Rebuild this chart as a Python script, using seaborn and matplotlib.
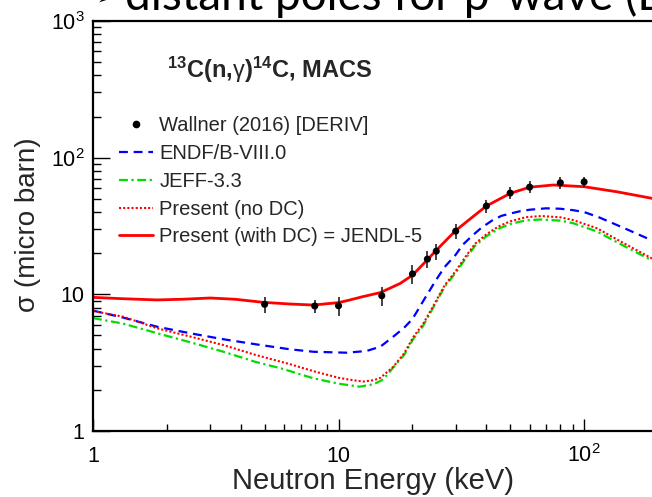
import matplotlib
matplotlib.use("Agg")
import matplotlib.pyplot as plt
import matplotlib.ticker as mticker
from matplotlib.lines import Line2D
import numpy as np
import pandas as pd
import seaborn as sns

# ---------------- data ----------------
exp_E = [5, 8, 10, 15, 20, 23, 25, 30, 40, 50, 60, 80, 100]
exp_S = [8.45, 8.21, 8.25, 9.77, 14.1, 18.1, 20.7, 29.0, 44.3, 55.1, 60.9, 65.5, 66.5]
exp_err = [1.1, 0.85, 1.3, 1.6, 2.2, 2.6, 2.8, 3.5, 5.0, 5.5, 6.2, 6.8, 6.0]

dc_E = [1, 1.3, 1.82, 2.3, 3.0, 3.8, 4.9, 6.3, 7.9, 10, 11, 12.5, 14.8, 17.8, 20, 23, 25,
        30, 35, 40, 50, 60, 75, 100, 136, 189]
dc_S = [9.5, 9.3, 9.1, 9.2, 9.4, 9.2, 8.75, 8.5, 8.35, 8.7, 9.05, 9.6, 10.3, 12.0, 13.8,
        17.9, 21.0, 29.3, 36.6, 44.3, 54.8, 60.8, 63.1, 61.3, 56.3, 50.4]

endf_E = [1, 1.33, 1.82, 2.5, 3.4, 4.6, 6.35, 7.9, 10.8, 13.0, 14.8, 16.7, 18.5, 20, 22.5,
          25, 27, 30, 32, 35, 38, 42, 46, 50, 55, 60, 70, 80, 90, 100, 115, 130, 150, 189]
endf_S = [7.6, 6.75, 5.8, 5.18, 4.69, 4.31, 3.96, 3.80, 3.74, 3.85, 4.14, 4.9, 5.7, 6.6,
          9.4, 12.8, 15.8, 19.5, 23.0, 26.8, 30.5, 34.5, 37.5, 39.0, 40.6, 41.6, 42.6, 42.3,
          41.3, 40.0, 36.6, 33.3, 29.8, 24.8]

nodc_E = [1, 1.33, 1.82, 2.5, 3.4, 4.6, 6.35, 7.9, 10, 11, 12.6, 14, 14.8, 16.7, 18.5, 20.2,
          22, 24.3, 27, 30, 33, 36, 40, 45, 50, 58, 67, 80, 90, 113, 140, 189]
nodc_S = [7.55, 6.85, 5.65, 4.9, 4.25, 3.6, 3.08, 2.74, 2.45, 2.38, 2.30, 2.36, 2.45, 2.95,
          3.7, 4.9, 6.0, 8.2, 11.6, 14.8, 19.0, 23.5, 27.5, 31.5, 34.2, 36.7, 37.4, 36.6,
          35.0, 30.4, 24.5, 18.3]

jeff_E = [1, 1.33, 1.82, 2.5, 3.4, 4.6, 5.8, 7.9, 10, 12.2, 13.9, 15, 15.7, 17.3, 18.5,
          20.2, 22, 24.3, 27, 30, 33, 36, 40, 45, 50, 58, 67, 80, 90, 113, 140, 189]
jeff_S = [6.7, 6.1, 5.2, 4.45, 3.8, 3.2, 2.88, 2.43, 2.22, 2.11, 2.2, 2.35, 2.55, 3.15,
          3.6, 4.75, 5.8, 8.0, 11.3, 14.4, 18.4, 22.7, 26.6, 30.3, 32.7, 34.8, 35.3, 34.6,
          33.2, 28.8, 23.4, 17.7]

labels = ["Wallner (2016) [DERIV]", "ENDF/B-VIII.0", "JEFF-3.3",
          "Present (no DC)", "Present (with DC) = JENDL-5"]
xtick_vals = [1, 10, 100]
xtick_labels = ["1", "10", "$10^{2}$"]
ytick_vals = [1, 10, 100, 1000]
ytick_labels = ["1", "10", "$10^{2}$", "$10^{3}$"]

# ---------------- style ----------------
sns.set_theme(style="white")
plt.rcParams["font.family"] = ["Liberation Sans", "DejaVu Sans"]
plt.rcParams["mathtext.fontset"] = "custom"
plt.rcParams["mathtext.rm"] = "Liberation Sans"
plt.rcParams["mathtext.it"] = "Liberation Sans:italic"
plt.rcParams["mathtext.bf"] = "Liberation Sans:bold"

fig = plt.figure(figsize=(6.52, 4.97), dpi=100)
ax = fig.add_axes([93 / 652, 66 / 497, 559 / 652, 410 / 497])
ax.set_xscale("log")
ax.set_yscale("log")

BLUE = "#0000ff"
GREEN = "#00dd00"
RED = "#ff0000"

sns.lineplot(x=endf_E, y=endf_S, ax=ax, color=BLUE, lw=1.6, sort=False,
             estimator=None, linestyle=(0, (4, 2.6)))
sns.lineplot(x=jeff_E, y=jeff_S, ax=ax, color=GREEN, lw=1.6, sort=False,
             estimator=None, linestyle=(0, (4, 1.6, 1, 1.6)))
sns.lineplot(x=nodc_E, y=nodc_S, ax=ax, color=RED, lw=1.5, sort=False,
             estimator=None, linestyle=(0, (1, 1)))
sns.lineplot(x=dc_E, y=dc_S, ax=ax, color=RED, lw=2.0, sort=False, estimator=None)

ax.errorbar(exp_E, exp_S, yerr=exp_err, fmt="none", ecolor="#222222",
            elinewidth=1.2, capsize=0, zorder=5)
sns.scatterplot(x=exp_E, y=exp_S, ax=ax, color="black", s=26, edgecolor="none",
                zorder=6)

ax.set_xlim(1, 189)
ax.set_ylim(1, 1000)

ax.set_xticks(xtick_vals)
ax.set_xticklabels(xtick_labels)
ax.set_yticks(ytick_vals)
ax.set_yticklabels(ytick_labels)
ax.xaxis.set_minor_locator(mticker.LogLocator(base=10, subs=np.arange(2, 10), numticks=20))
ax.yaxis.set_minor_locator(mticker.LogLocator(base=10, subs=np.arange(2, 10), numticks=20))
ax.xaxis.set_minor_formatter(mticker.NullFormatter())
ax.yaxis.set_minor_formatter(mticker.NullFormatter())

ax.tick_params(axis="x", which="major", direction="in", length=8.6, width=1.0,
               labelsize=15.5, pad=22, colors="black", top=False, bottom=True)
ax.tick_params(axis="x", which="minor", direction="in", length=5, width=1.0,
               top=False, bottom=True, colors="black")
ax.tick_params(axis="y", which="major", direction="in", length=12, width=1.0,
               labelsize=15.5, pad=6, colors="black", left=True, right=False)
ax.tick_params(axis="y", which="minor", direction="in", length=6, width=1.0,
               left=True, right=False, colors="black")
for lab in ax.get_xticklabels():
    lab.set_verticalalignment("baseline")

for side in ["left", "bottom", "top"]:
    ax.spines[side].set_visible(True)
    ax.spines[side].set_color("black")
    ax.spines[side].set_linewidth(1.6)
ax.spines["right"].set_visible(False)

ax.set_xlabel("Neutron Energy (keV)", fontsize=21, va="center")
ax.xaxis.set_label_coords(0.5, -0.122)
ax.set_ylabel("\u03c3 (micro barn)", fontsize=20, va="center")
ax.yaxis.set_label_coords(-0.116, 0.502)

ax.text(167 / 652, 1 - 70 / 497,
        r"$\mathbf{^{13}}$C(n,$\mathrm{\gamma}$)$\mathbf{^{14}}$C, MACS",
        transform=fig.transFigure, fontsize=17, fontweight="bold",
        va="center", ha="left")

handles = [
    Line2D([], [], marker="o", color="black", linestyle="none", markersize=4.5),
    Line2D([], [], color=BLUE, lw=1.6, linestyle=(0, (4, 2.6))),
    Line2D([], [], color=GREEN, lw=1.6, linestyle=(0, (4, 1.6, 1, 1.6))),
    Line2D([], [], color=RED, lw=1.5, linestyle=(0, (1, 1))),
    Line2D([], [], color=RED, lw=2.0),
]
ax.legend(handles, labels, loc="upper left", bbox_to_anchor=(119 / 652, 1 - 116 / 497),
          bbox_transform=fig.transFigure, frameon=False, fontsize=14.5,
          borderpad=0, borderaxespad=0, handlelength=1.7, handletextpad=0.3,
          labelspacing=0.44)

# cropped slide title at the very top
fig.text(96 / 652, 1 - 6 / 497, "\u27a2", fontsize=20,
         family=["DejaVu Sans"], va="baseline", ha="left", color="black")
fig.text(125 / 652, 1 - 10 / 497, "distant poles for p-wave (DC)",
         fontsize=33, family=["Lato", "DejaVu Sans"], va="baseline", ha="left",
         color="black")

fig.savefig("out.png", dpi=100)
